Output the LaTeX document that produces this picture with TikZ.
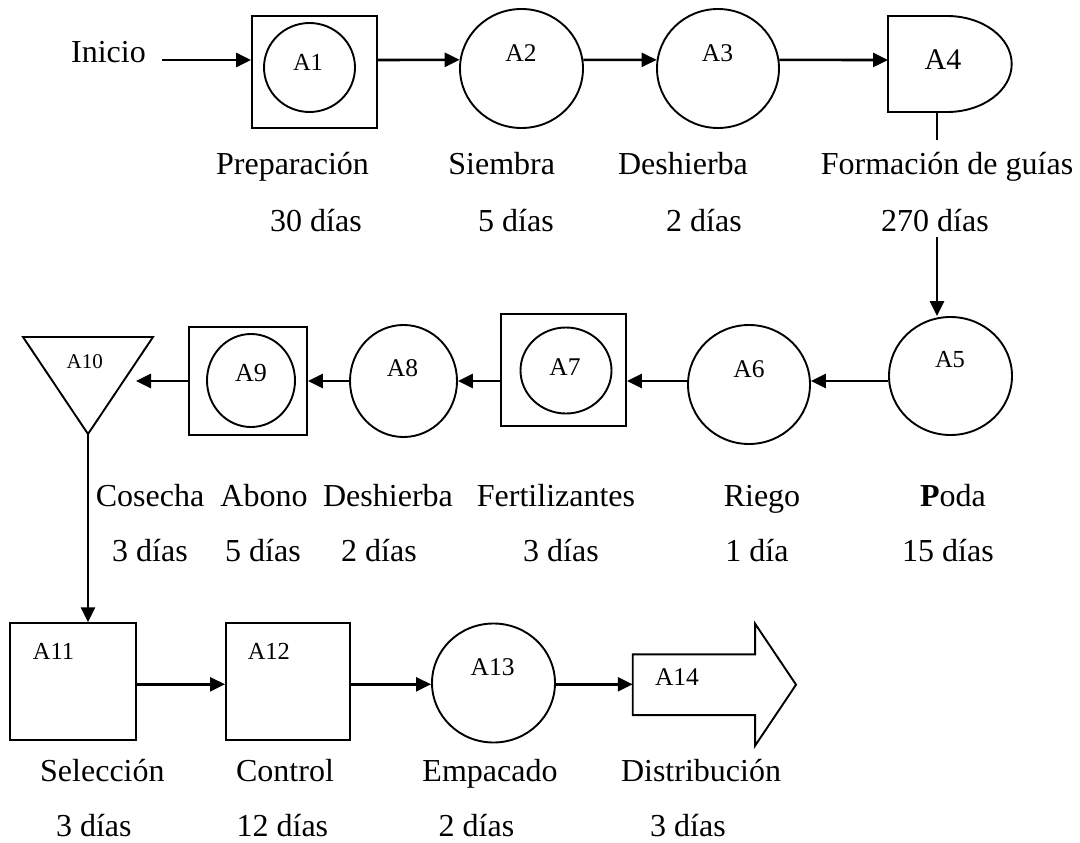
\documentclass[tikz,border=0pt]{standalone}
\usepackage{fontspec}
\setmainfont{Liberation Serif}
\usetikzlibrary{arrows.meta,shapes.geometric}
\newcommand\lblfont{\fontsize{32}{38}\selectfont}
\newcommand\tagfont{\fontsize{25.5}{30}\selectfont}
\begin{document}
\begin{tikzpicture}[x=1pt,y=-1pt,
  shp/.style={draw, line width=1.9pt, inner sep=0pt},
  circn/.style={shp, ellipse},
  ghost/.style={inner sep=0pt, outer sep=0pt, rectangle},
  shapeline/.style={line width=1.9pt, line join=miter},
  arr/.style={line width=2.6pt, -{Triangle[length=15pt,width=14pt]}},
  ln/.style={line width=2.6pt},
  lbl/.style={anchor=base, inner sep=0pt, font=\lblfont},
  tag/.style={inner sep=0pt, font=\tagfont},
]
\useasboundingbox (0,0) rectangle (1080,843);

% ---------- row 1 ----------
\node[lbl] (inicio) at (108.5,63) {Inicio};
\node[shp, minimum width=125pt, minimum height=112pt] (a1box) at (314.5,72) {};
\node[circn, minimum width=91pt, minimum height=89pt] (a1) at (309.5,67.5) {};
\node[tag, font=\fontsize{24.5}{29}\selectfont] (t1) at (308,62.5) {A1};
\node[circn, minimum width=123pt, minimum height=119pt] (a2) at (521.5,68.5) {};
\node[tag] (t2) at (521,52.8) {A2};
\node[circn, minimum width=122pt, minimum height=119pt] (a3) at (718,68.5) {};
\node[tag] (t3) at (717.5,52.8) {A3};
\node[ghost, minimum width=59pt, minimum height=96pt] (a4) at (917.5,64) {};
\draw[shapeline] (a4.north east) -- (a4.north west) -- (a4.south west) -- (a4.south east)
  arc[start angle=-90, end angle=90, x radius=64.7pt, y radius=48pt];
\node[tag, font=\fontsize{30}{34}\selectfont] (t4) at (943,60) {A4};

\node[lbl] (l1) at (292.5,174) {Preparación};
\node[lbl] (d1) at (316,231.7) {30 días};
\node[lbl] (l2) at (501.7,174) {Siembra};
\node[lbl] (d2) at (516,231.7) {5 días};
\node[lbl] (l3) at (683,174) {Deshierba};
\node[lbl] (d3) at (704,231.7) {2 días};
\node[lbl] (l4) at (947,174) {Formación de guías};
\node[lbl] (d4) at (935,231.7) {270 días};

\coordinate (s0) at (162,60);
\coordinate (f1) at (937,140);
\coordinate (f2) at (937,237);
\draw[arr] (s0) -- (a1box.west |- s0);
\draw[arr] (a1box.east |- s0) -- (a2.172);
\draw[arr] (a2.8) -- (a3.172);
\draw[arr] (a3.8) -- (a4.west |- s0);
\draw[ln] (a4.south -| f1) -- (f1);

% ---------- row 2 ----------
\node[circn, minimum width=123pt, minimum height=118pt] (a5) at (950.5,376) {};
\node[tag, font=\fontsize{24.5}{29}\selectfont] (t5) at (950,359.5) {A5};
\node[circn, minimum width=122pt, minimum height=119pt] (a6) at (749,384.5) {};
\node[tag] (t6) at (749,369.5) {A6};
\node[shp, minimum width=125pt, minimum height=112pt] (a7box) at (563.5,370) {};
\node[circn, minimum width=91pt, minimum height=86pt] (a7) at (566,370.5) {};
\node[tag] (t7) at (565,367.5) {A7};
\node[circn, minimum width=107pt, minimum height=112pt] (a8) at (403.5,381) {};
\node[tag] (t8) at (402.5,368.5) {A8};
\node[shp, minimum width=118pt, minimum height=108pt] (a9box) at (248,381) {};
\node[circn, minimum width=88pt, minimum height=93pt] (a9) at (251,380.5) {};
\node[tag, font=\fontsize{26}{30}\selectfont] (t9) at (251,372.8) {A9};
\node[ghost, minimum width=130pt, minimum height=97pt] (a10) at (88,385.5) {};
\draw[shapeline] (a10.north west) -- (a10.north east) -- (a10.south) -- cycle;
\node[tag, font=\fontsize{21}{25}\selectfont] (t10) at (84.7,361.7) {A10};

\node[lbl] (l5) at (953,506) {\textbf{P}oda};
\node[lbl] (d5) at (948,561.7) {15 días};
\node[lbl] (l6) at (762,506.7) {Riego};
\node[lbl] (d6) at (757,561.7) {1 día};
\node[lbl] (l7) at (556,506.7) {Fertilizantes};
\node[lbl] (d7) at (561,561.7) {3 días};
\node[lbl] (l8) at (388,506.7) {Deshierba};
\node[lbl] (d8) at (379,561.7) {2 días};
\node[lbl] (l9) at (264,506.7) {Abono};
\node[lbl] (d9) at (263,561.7) {5 días};
\node[lbl] (l10) at (150,506.7) {Cosecha};
\node[lbl] (d10) at (150,561.7) {3 días};

\coordinate (r2) at (0,381);
\coordinate (g10) at (136,381);
\draw[arr] (f2) -- (a5.north -| f2);
\draw[arr] (a5.west |- r2) -- (a6.east |- r2);
\draw[arr] (a6.west |- r2) -- (a7box.east |- r2);
\draw[arr] (a7box.west |- r2) -- (a8.east |- r2);
\draw[arr] (a8.west |- r2) -- (a9box.east |- r2);
\draw[arr] (a9box.west |- r2) -- (g10);

% ---------- row 3 ----------
\node[shp, minimum width=125.6pt, minimum height=117pt] (a11) at (73,681.7) {};
\node[tag, font=\fontsize{24.5}{29}\selectfont] (t11) at (53.6,651) {A11};
\node[shp, minimum width=124pt, minimum height=117pt] (a12) at (288,681.7) {};
\node[tag, font=\fontsize{24.5}{29}\selectfont] (t12) at (268.9,651) {A12};
\node[circn, minimum width=123pt, minimum height=119pt] (a13) at (493.5,683) {};
\node[tag] (t13) at (492.7,667.5) {A13};
\node[ghost, minimum width=122.3pt, minimum height=60.7pt] (a14) at (693.9,684.7) {};
\draw[shapeline] (a14.north east) -- (a14.north west) -- (a14.south west) -- (a14.south east)
  -- ([yshift=-30.7pt]a14.south east) -- ([xshift=41pt]a14.east)
  -- ([yshift=30.7pt]a14.north east) -- cycle;
\node[tag] (t14) at (677,676.7) {A14};

\node[lbl] (l11) at (102.4,781.7) {Selección};
\node[lbl] (d11) at (93.8,836.7) {3 días};
\node[lbl] (l12) at (285,781.7) {Control};
\node[lbl] (d12) at (282.4,836.7) {12 días};
\node[lbl] (l13) at (490,781.7) {Empacado};
\node[lbl] (d13) at (476.5,836.7) {2 días};
\node[lbl] (l14) at (701,781.7) {Distribución};
\node[lbl] (d14) at (688,836.7) {3 días};

\coordinate (r3) at (0,684.3);
\draw[arr] (a10.south) -- (a10.south |- a11.north);
\draw[arr] (a11.east |- r3) -- (a12.west |- r3);
\draw[arr] (a12.east |- r3) -- (a13.west |- r3);
\draw[arr] (a13.east |- r3) -- (a14.west |- r3);
\end{tikzpicture}
\end{document}
